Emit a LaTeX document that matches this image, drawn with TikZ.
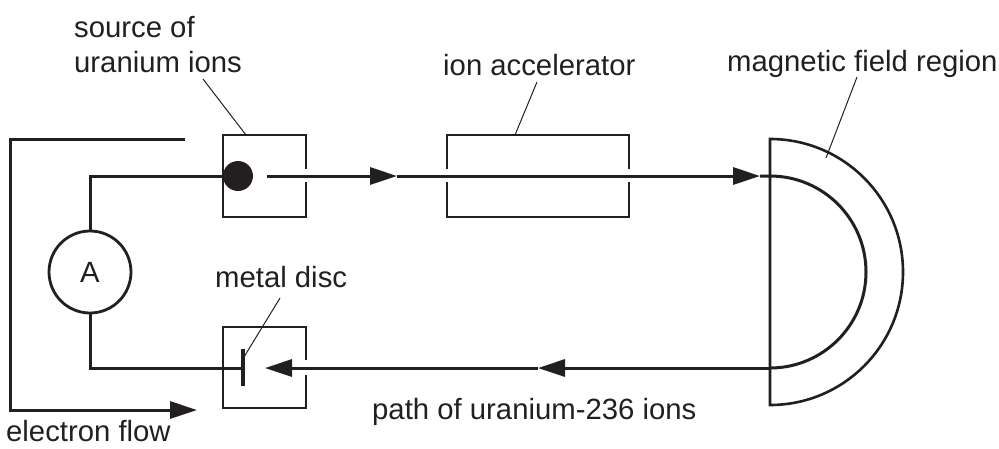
\documentclass[tikz,border=0pt]{standalone}
\usepackage{fontspec}
\setmainfont{Liberation Sans}
\usetikzlibrary{arrows.meta}
\definecolor{ink}{HTML}{231F20}
\begin{document}
\begin{tikzpicture}[x=1pt,y=-1pt,
  wire/.style={draw=ink,line width=3pt},
  boxline/.style={draw=ink,line width=2.9pt},
  leader/.style={draw=ink,line width=1pt},
  tri/.style={-{Triangle[length=27pt,width=17pt]}},
  lbl/.style={text=ink,inner sep=0pt,anchor=base west,font=\fontsize{29.3}{35}\selectfont}]
\useasboundingbox (0,0) rectangle (999,448);

% coordinates
\coordinate (dot) at (238,176);
\coordinate (beamstart) at (267,176);
\coordinate (arr1) at (397,176);
\coordinate (arr2) at (760,176);
\coordinate (magin) at (770,176);
\coordinate (magout) at (770,368);
\coordinate (arr3) at (538,368);
\coordinate (arr4) at (265,368);
\coordinate (discmid) at (243,368);
\coordinate (wtop) at (90,176);
\coordinate (wbot) at (90,368);
\coordinate (ef0) at (185,139);
\coordinate (ef1) at (10,139);
\coordinate (ef2) at (10,410);
\coordinate (ef3) at (197,410);

% source box
\draw[boxline] (306,169) -- (306,135) -- (223,135) -- (223,217) -- (306,217) -- (306,182);
% accelerator box
\draw[boxline] (447,169) -- (447,135) -- (629,135) -- (629,169);
\draw[boxline] (629,182) -- (629,217) -- (447,217) -- (447,182);
% detector box
\draw[boxline] (306,360) -- (306,327) -- (223,327) -- (223,408) -- (306,408) -- (306,375);

% magnetic field region
\draw[boxline,line width=2.6pt] (770,139) arc[start angle=90,end angle=-90,radius=133pt] -- cycle;

% ion beam
\draw[wire,tri] (beamstart) -- (arr1);
\draw[wire,tri] (arr1) -- (arr2);
\draw[wire] (arr2) -- (magin) arc[start angle=90,end angle=-90,radius=96pt];
\draw[wire,tri] (magout) -- (arr3);
\draw[wire,tri] (arr3) -- (arr4);

% ammeter circuit
\node[circle,draw=ink,line width=2.8pt,minimum size=82pt,inner sep=0pt,text=ink,font=\fontsize{29.3}{35}\selectfont] (A) at (90,272) {A};
\draw[wire] (dot) -- (wtop) -- (A.north);
\draw[wire] (A.south) -- (wbot) -- (discmid);
\fill[ink] (dot) circle[radius=15pt];
\draw[draw=ink,line width=4.5pt] (243,349) -- (243,386);

% electron flow
\draw[wire,tri] (ef0) -- (ef1) -- (ef2) -- (ef3);

% labels
\node[lbl] (src1) at (74,37) {source of};
\node[lbl] (src2) at (74,72) {uranium ions};
\node[lbl] (acc) at (443,75) {ion accelerator};
\node[lbl] (mag) at (727,71) {magnetic field region};
\node[lbl] (disc) at (215,287) {metal disc};
\node[lbl] (path) at (372,419) {path of uranium-236 ions};
\node[lbl] (eflow) at (6,441) {electron flow};

% leaders
\draw[leader] (203,79) -- (246,135);
\draw[leader] (537,82) -- (515,135);
\draw[leader] (857,77) -- (826,158);
\draw[leader] (280,298) -- (244,357);
\end{tikzpicture}
\end{document}
